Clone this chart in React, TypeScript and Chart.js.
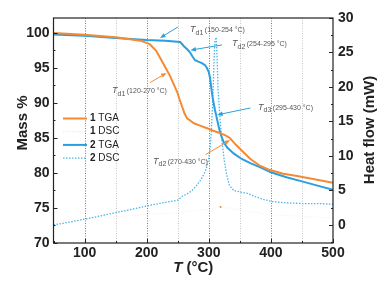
import React, { useEffect, useRef } from 'react';
import { Chart, registerables } from 'chart.js';

Chart.register(...registerables);

const FONT = '"Liberation Sans", Arial, Helvetica, sans-serif';

// ---- data ----
const tga1Temp = [50, 100, 150, 190, 205, 215, 222, 230, 238, 244, 249, 253, 257, 261, 265, 270, 276, 285, 297, 305, 312, 318, 326, 334, 343, 351, 360, 367, 375, 383, 396, 420, 440, 470, 500];
const tga1Mass = [100.0, 99.75, 99.4, 98.9, 98.4, 97.5, 96.4, 95.1, 93.8, 92.6, 91.6, 90.5, 89.5, 88.5, 87.8, 87.5, 87.1, 86.8, 86.4, 86.1, 85.9, 85.7, 85.4, 85.0, 84.1, 83.4, 82.6, 82.0, 81.5, 81.0, 80.5, 79.9, 79.6, 79.1, 78.6];

const tga2Temp = [50, 100, 150, 200, 230, 254, 260, 266, 270, 274, 278, 283, 289, 294, 297, 300, 302, 304, 306, 308, 310, 313, 316, 318, 321, 324, 330, 340, 353, 367, 383, 400, 425, 450, 475, 500];
const tga2Mass = [99.8, 99.6, 99.3, 99.0, 98.9, 98.7, 98.1, 97.6, 97.2, 96.6, 96.1, 95.9, 95.7, 95.4, 95.0, 94.4, 93.6, 92.2, 90.9, 89.9, 89.0, 87.8, 86.6, 85.9, 85.1, 84.4, 83.6, 82.8, 82.0, 81.4, 80.8, 80.1, 79.4, 78.8, 78.2, 77.6];

const dsc2Temp = [50, 75, 100, 125, 150, 175, 200, 225, 250, 258, 265, 273, 280, 286, 290, 294, 297, 300, 302, 304, 306, 307, 308.5, 310, 312, 313.5, 315, 318, 321, 325, 329, 333, 340, 350, 362, 375, 388, 402, 425, 455, 480, 500];
const dsc2Flow = [0.0, 0.4, 0.85, 1.3, 1.8, 2.25, 2.75, 3.2, 3.6, 4.2, 4.5, 5.0, 5.7, 6.4, 7.0, 7.7, 8.5, 9.7, 11.0, 13.5, 17.0, 19.6, 24.0, 26.8, 27.2, 24.0, 19.6, 15.5, 12.3, 9.3, 7.2, 5.8, 5.0, 4.8, 4.6, 4.1, 3.7, 3.4, 3.2, 3.1, 3.1, 3.0];

const dsc1Temp = [50, 150, 250, 300, 319, 400, 500];
const dsc1Flow = [0.5, 1.2, 1.8, 2.3, 2.6, 1.5, 1.0];

const xTickValues = [100, 200, 300, 400, 500];
const massTickValues = [70, 75, 80, 85, 90, 95, 100];
const flowTickValues = [0, 5, 10, 15, 20, 25, 30];
const gridValues = [100, 150, 200, 250, 300, 350, 400, 450];

const seriesNumbers = ['1', '1', '2', '2'];
const seriesNames = ['TGA', 'DSC', 'TGA', 'DSC'];

const annoSubs = ['d1', 'd2', 'd3', 'd1', 'd2'];
const annoRanges = ['(150-254 °C)', '(254-295 °C)', '(295-430 °C)', '(120-270 °C)', '(270-430 °C)'];

// ---- styles / layout ----
const ORANGE = '#F58A32';
const BLUE = '#2A9FE0';
const BLUE_DOT = '#4DB5EB';
const TEXT = '#222222';
const ANNO_TEXT = '#555555';

// annotation placement (data coords: x = °C, y = mass %)
const annoLayout = [
  { color: BLUE, tx: 269.8, ty: 100.1, ax: 250.4, ay: 100.86, hx: 221.5, hy: 99.29 },
  { color: BLUE, tx: 337.4, ty: 98.1, ax: 321.3, ay: 98.29, hx: 270.5, hy: 97.55 },
  { color: BLUE, tx: 379.3, ty: 89.0, ax: 367.0, ay: 89.29, hx: 313.5, hy: 88.3 },
  { color: ORANGE, tx: 144.2, ty: 91.4, ax: 205.4, ay: 92.9, hx: 232.0, hy: 94.3 },
  { color: ORANGE, tx: 210.2, ty: 81.3, ax: 294.5, ay: 82.6, hx: 334.2, hy: 84.7 },
];

const zip = (xs: number[], ys: number[]) => xs.map((x, i) => ({ x, y: ys[i] }));

function drawArrow(ctx: CanvasRenderingContext2D, x0: number, y0: number, x1: number, y1: number, color: string) {
  const ang = Math.atan2(y1 - y0, x1 - x0);
  const L = 5.5, W = 2.2;
  ctx.save();
  ctx.strokeStyle = color;
  ctx.fillStyle = color;
  ctx.lineWidth = 1;
  ctx.setLineDash([]);
  ctx.beginPath();
  ctx.moveTo(x0, y0);
  ctx.lineTo(x1 - Math.cos(ang) * L * 0.8, y1 - Math.sin(ang) * L * 0.8);
  ctx.stroke();
  ctx.beginPath();
  ctx.moveTo(x1, y1);
  ctx.lineTo(x1 - Math.cos(ang) * L - Math.sin(ang) * W, y1 - Math.sin(ang) * L + Math.cos(ang) * W);
  ctx.lineTo(x1 - Math.cos(ang) * L + Math.sin(ang) * W, y1 - Math.sin(ang) * L - Math.cos(ang) * W);
  ctx.closePath();
  ctx.fill();
  ctx.restore();
}

const overlayPlugin = {
  id: 'overlay',
  beforeDatasetsDraw(chart: any) {
    const { ctx, chartArea: a, scales } = chart;
    ctx.save();
    ctx.lineWidth = 1;
    ctx.setLineDash([1, 1.5]);
    gridValues.forEach((v) => {
      const px = Math.round(scales.x.getPixelForValue(v)) + 0.5;
      ctx.strokeStyle = v % 100 === 0 ? '#7a7a7a' : '#c4c4c4';
      ctx.beginPath();
      ctx.moveTo(px, a.top);
      ctx.lineTo(px, a.bottom);
      ctx.stroke();
    });
    ctx.restore();
  },
  afterDatasetsDraw(chart: any) {
    const { ctx, chartArea: a, scales } = chart;
    const sx = scales.x, sy = scales.y, sy2 = scales.y2;
    ctx.save();
    ctx.setLineDash([]);
    // frame
    ctx.strokeStyle = TEXT;
    ctx.lineWidth = 1.2;
    ctx.strokeRect(a.left, a.top, a.right - a.left, a.bottom - a.top);
    // ticks (inward)
    ctx.lineWidth = 1;
    ctx.beginPath();
    for (let v = 50; v <= 500; v += 50) {
      const px = Math.round(sx.getPixelForValue(v)) + 0.5;
      const len = v % 100 === 0 ? 4 : 2;
      ctx.moveTo(px, a.bottom);
      ctx.lineTo(px, a.bottom - len);
    }
    for (let v = 70; v <= 102; v += 2.5) {
      const py = Math.round(sy.getPixelForValue(v)) + 0.5;
      const len = v % 5 === 0 ? 4 : 2;
      ctx.moveTo(a.left, py);
      ctx.lineTo(a.left + len, py);
    }
    for (let v = -2.5; v <= 30; v += 2.5) {
      const py = Math.round(sy2.getPixelForValue(v)) + 0.5;
      const len = v % 5 === 0 ? 4 : 2;
      ctx.moveTo(a.right, py);
      ctx.lineTo(a.right - len, py);
    }
    ctx.stroke();

    // annotations
    annoLayout.forEach((an, i) => {
      drawArrow(ctx, sx.getPixelForValue(an.ax), sy.getPixelForValue(an.ay), sx.getPixelForValue(an.hx), sy.getPixelForValue(an.hy), an.color);
      let x = sx.getPixelForValue(an.tx);
      const y = sy.getPixelForValue(an.ty);
      ctx.fillStyle = ANNO_TEXT;
      ctx.textAlign = 'left';
      ctx.textBaseline = 'alphabetic';
      ctx.font = `italic 9px ${FONT}`;
      ctx.fillText('T', x, y);
      x += ctx.measureText('T').width;
      ctx.font = `7px ${FONT}`;
      ctx.fillText(annoSubs[i], x, y + 2.5);
      x += ctx.measureText(annoSubs[i]).width + 1.5;
      ctx.fillText(annoRanges[i], x, y);
    });

    // legend
    const ds = chart.data.datasets;
    const lx0 = a.left + 9.5, lx1 = a.left + 33.5;
    seriesNames.forEach((name, i) => {
      const y = a.top + 100.5 + i * 13.2;
      const d = ds[i];
      ctx.save();
      ctx.strokeStyle = d.legendColor || d.borderColor;
      ctx.lineWidth = d.borderWidth;
      ctx.setLineDash(d.borderDash || []);
      ctx.beginPath();
      ctx.moveTo(lx0, y);
      ctx.lineTo(lx1, y);
      ctx.stroke();
      ctx.restore();
      ctx.fillStyle = TEXT;
      ctx.textBaseline = 'middle';
      ctx.textAlign = 'left';
      ctx.font = `bold 10px ${FONT}`;
      const tx = a.left + 36.5;
      ctx.fillText(seriesNumbers[i], tx, y);
      const w = ctx.measureText(seriesNumbers[i] + ' ').width;
      ctx.font = `10px ${FONT}`;
      ctx.fillText(name, tx + w, y);
    });

    // axis titles
    ctx.fillStyle = TEXT;
    ctx.textBaseline = 'alphabetic';
    ctx.font = `italic bold 15px ${FONT}`;
    const wT = ctx.measureText('T').width;
    ctx.font = `bold 15px ${FONT}`;
    const wR = ctx.measureText(' (°C)').width;
    const cx = (a.left + a.right) / 2;
    const xs = cx - (wT + wR) / 2;
    ctx.textAlign = 'left';
    ctx.font = `italic bold 15px ${FONT}`;
    ctx.fillText('T', xs, 272);
    ctx.font = `bold 15px ${FONT}`;
    ctx.fillText(' (°C)', xs + wT, 272);
    ctx.save();
    ctx.translate(27, 123);
    ctx.rotate(-Math.PI / 2);
    ctx.textAlign = 'center';
    ctx.fillText('Mass %', 0, 0);
    ctx.restore();
    ctx.save();
    ctx.translate(374, 130);
    ctx.rotate(-Math.PI / 2);
    ctx.textAlign = 'center';
    ctx.fillText('Heat flow (mW)', 0, 0);
    ctx.restore();

    ctx.restore();
  },
};

export default function App() {
  const ref = useRef<HTMLCanvasElement | null>(null);
  useEffect(() => {
    document.body.style.margin = '0';
    const canvas = ref.current;
    if (!canvas) return;
    const tickFont = { family: FONT, size: 14, weight: 'bold' as const };
    const chart = new Chart(canvas, {
      type: 'line',
      data: {
        datasets: [
          {
            label: '1 TGA', data: zip(tga1Temp, tga1Mass), yAxisID: 'y',
            borderColor: ORANGE, borderWidth: 2, pointRadius: 0, tension: 0,
          },
          {
            label: '1 DSC', data: zip(dsc1Temp, dsc1Flow), yAxisID: 'y2',
            borderColor: 'rgba(245,138,50,0.10)', legendColor: 'rgba(245,138,50,0.18)', borderWidth: 1.2, borderDash: [1.5, 1.5],
            pointRadius: dsc1Temp.map((t) => (t === 319 ? 1 : 0)), pointBackgroundColor: ORANGE, pointBorderWidth: 0, tension: 0,
          } as any,
          {
            label: '2 TGA', data: zip(tga2Temp, tga2Mass), yAxisID: 'y',
            borderColor: BLUE, borderWidth: 2, pointRadius: 0, tension: 0,
          },
          {
            label: '2 DSC', data: zip(dsc2Temp, dsc2Flow), yAxisID: 'y2',
            borderColor: BLUE_DOT, borderWidth: 1.3, borderDash: [1.5, 1.5], pointRadius: 0, tension: 0,
          },
        ],
      },
      options: {
        animation: false,
        responsive: false,
        devicePixelRatio: 1,
        layout: { padding: { top: 18, left: 0, right: 0, bottom: 0 } },
        plugins: { legend: { display: false }, tooltip: { enabled: false } },
        scales: {
          x: {
            type: 'linear', min: 50, max: 500,
            afterBuildTicks: (s: any) => { s.ticks = xTickValues.map((value) => ({ value })); },
            ticks: { font: tickFont, color: TEXT, padding: 2, maxRotation: 0, autoSkip: false },
            grid: { display: false, drawTicks: false },
            border: { display: false },
            afterFit: (s: any) => { s.height = 42; },
          },
          y: {
            type: 'linear', position: 'left', min: 70, max: 102.14,
            afterBuildTicks: (s: any) => { s.ticks = massTickValues.map((value) => ({ value })); },
            ticks: { font: tickFont, color: TEXT, padding: 4, autoSkip: false },
            grid: { display: false, drawTicks: false },
            border: { display: false },
            afterFit: (s: any) => { s.width = 53.5; },
          },
          y2: {
            type: 'linear', position: 'right', min: -2.61, max: 30,
            afterBuildTicks: (s: any) => { s.ticks = flowTickValues.map((value) => ({ value })); },
            ticks: { font: tickFont, color: TEXT, padding: 5, autoSkip: false },
            grid: { display: false, drawTicks: false },
            border: { display: false },
            afterFit: (s: any) => { s.width = 52; },
          },
        },
      } as any,
      plugins: [overlayPlugin],
    });
    return () => chart.destroy();
  }, []);
  return (
    <div style={{ width: 385, height: 285, position: 'relative', background: '#fff' }}>
      <canvas ref={ref} width={385} height={285} style={{ width: 385, height: 285, display: 'block' }} />
    </div>
  );
}
